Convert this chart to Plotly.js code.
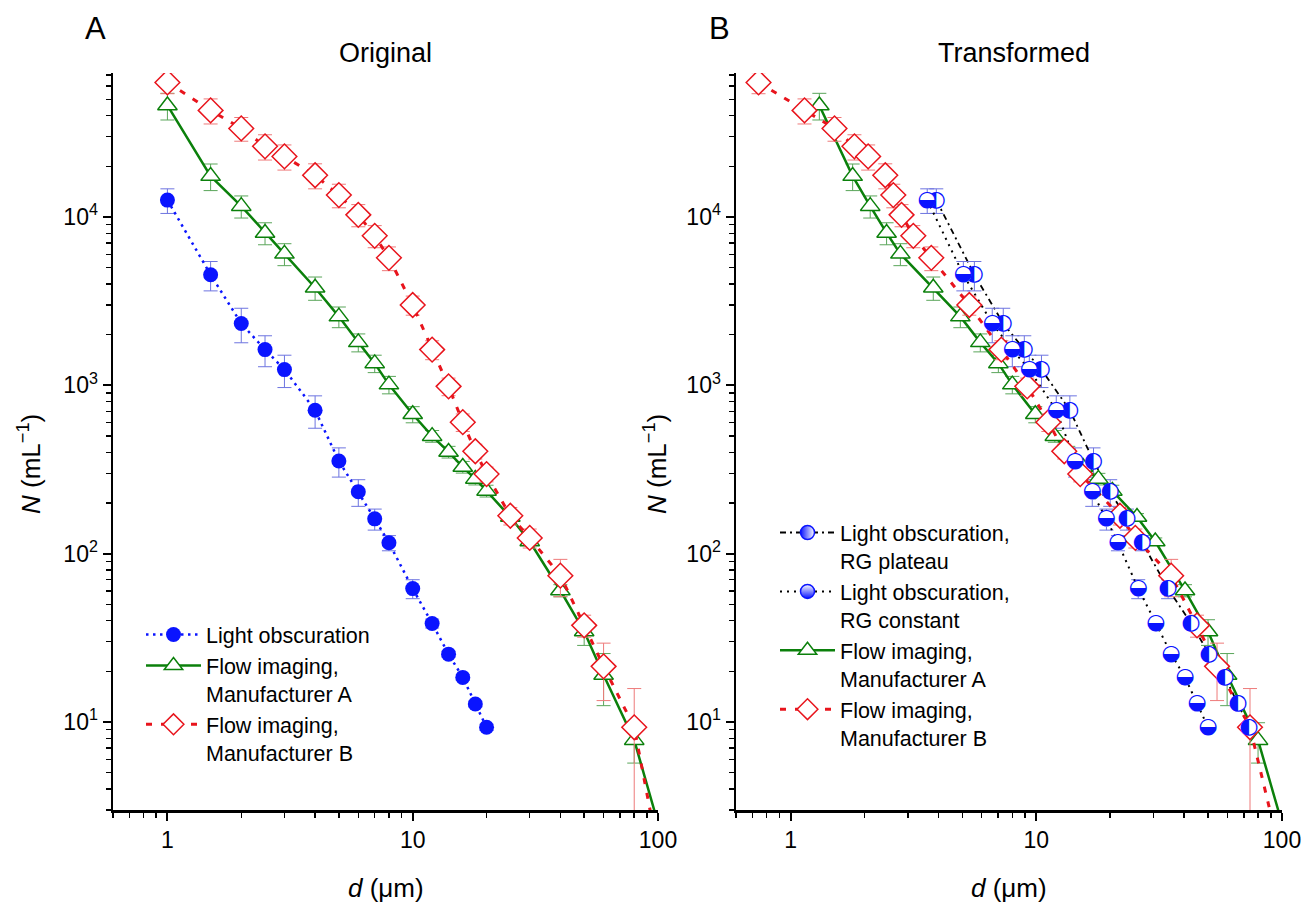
<!DOCTYPE html>
<html>
<head>
<meta charset="utf-8">
<script src="https://cdn.plot.ly/plotly-3.0.1.min.js"></script>
<style>html,body{margin:0;padding:0;background:#fff}#chart{width:1302px;height:903px}</style>
</head>
<body>
<div id="chart"></div>
<script>
// ---------- Panel A: Original ----------
var dLO   = [1, 1.5, 2, 2.5, 3, 4, 5, 6, 7, 8, 10, 12, 14, 16, 18, 20];
var nLO   = [12600, 4540, 2330, 1630, 1240, 711, 355, 233, 161, 116, 62, 38.5, 25.3, 18.4, 12.8, 9.3];
var eLO   = [2100, 900, 540, 340, 270, 155, 70, 42, 23, 12, 8, 2.3, 1, 0.7, 0.5, 0.4];

var dFA   = [1, 1.5, 2, 2.5, 3, 4, 5, 6, 7, 8, 10, 12, 14, 16, 18, 20, 25, 30, 40, 50, 60, 80, 100];
var nFA   = [46000, 17500, 11600, 8040, 6040, 3800, 2560, 1800, 1350, 1010, 673, 499, 402, 327, 278, 236, 165, 118, 60.4, 34.5, 19, 7.8, 2.5];
var eFA   = [8300, 3150, 1740, 1200, 900, 600, 360, 220, 160, 120, 74, 40, 32, 26, 22, 19, 8, 6, 5, 6, 6.5, 2.1, 0];

var dFB   = [1, 1.5, 2, 2.5, 3, 4, 5, 6, 7, 8, 10, 12, 14, 16, 18, 20, 25, 30, 40, 50, 60, 80, 100];
var nFB   = [63000, 43000, 33600, 26300, 22900, 17700, 13500, 10300, 7730, 5720, 3000, 1630, 986, 604, 406, 297, 168, 124, 74, 37.5, 21.4, 9.3, 1.7];
var eFB   = [9000, 7300, 5400, 4500, 3900, 3000, 2160, 1550, 1160, 920, 390, 210, 118, 72, 41, 30, 20, 16, 18.5, 5.6, 8, 6.5, 0];

// ---------- Panel B: Transformed sizes ----------
var dPlateau  = [3.92, 5.60, 7.34, 8.94, 10.5, 13.7, 17.1, 20.0, 23.4, 27.0, 34.4, 42.7, 50.5, 58.7, 66.2, 73.4];
var dConstant = [3.60, 5.05, 6.62, 7.99, 9.37, 12.06, 14.4, 16.9, 19.3, 21.5, 26.0, 30.7, 35.4, 40.3, 45.1, 50.0];
var dFA_T     = [1.31, 1.79, 2.11, 2.46, 2.80, 3.81, 4.91, 5.92, 7.01, 7.99, 9.91, 11.9, 13.5, 15.5, 17.9, 20.4, 25.7, 30.5, 40.3, 50.0, 59.8, 79.9, 100];
var dFB_T     = [0.741, 1.14, 1.51, 1.82, 2.07, 2.43, 2.62, 2.83, 3.16, 3.74, 5.34, 7.21, 9.19, 11.2, 13.0, 15.1, 21.9, 25.3, 35.4, 45.1, 54.4, 74.1, 98];

// ---------- Labels ----------
var xTickVals = [1, 10, 100];
var xTickText = ['1', '10', '100'];
var yTickVals = [10, 100, 1000, 10000];
var yTickText = ['10<sup>1</sup>', '10<sup>2</sup>', '10<sup>3</sup>', '10<sup>4</sup>'];
var legLO  = 'Light obscuration';
var legFA  = 'Flow imaging,<br>Manufacturer A';
var legFB  = 'Flow imaging,<br>Manufacturer B';
var legPl  = 'Light obscuration,<br>RG plateau';
var legCo  = 'Light obscuration,<br>RG constant';

var FONT = 'Liberation Sans, Arial, sans-serif';
var BLUE = '#0a14ff', GREEN = '#0b800b', RED = '#e8141c';
var BLUE_E = '#6d74e0', GREEN_E = '#5aa55a', RED_E = '#ee7a7a';

function minorTicks(lo, hi) {
  var v = [];
  for (var p = lo; p <= hi; p++) {
    for (var k = 2; k <= 9; k++) v.push(k * Math.pow(10, p));
  }
  return v;
}

function errs(arr, col) {
  return {type: 'data', array: arr, visible: true, color: col, thickness: 1, width: 7};
}

var triMarker = {symbol: 'triangle-up', size: 17, color: 'white', line: {width: 1.5, color: GREEN}};
var diaMarker = {symbol: 'diamond', size: 19, color: 'white', line: {width: 1.5, color: RED}};

var traces = [
  {x: dLO, y: nLO, xaxis: 'x', yaxis: 'y', name: legLO, legend: 'legend', mode: 'lines+markers',
   line: {color: BLUE, width: 2.5, dash: '2.5px,4.5px'},
   marker: {symbol: 'circle', size: 15, color: BLUE}, error_y: errs(eLO, BLUE_E)},
  {x: dFA, y: nFA, xaxis: 'x', yaxis: 'y', name: legFA, legend: 'legend', mode: 'lines+markers',
   line: {color: GREEN, width: 2.5}, marker: triMarker, error_y: errs(eFA, GREEN_E)},
  {x: dFB, y: nFB, xaxis: 'x', yaxis: 'y', name: legFB, legend: 'legend', mode: 'lines+markers',
   line: {color: RED, width: 3, dash: '6px,9px'}, marker: diaMarker, error_y: errs(eFB, RED_E)},

  {x: dPlateau, y: nLO, xaxis: 'x2', yaxis: 'y2', name: legPl, legend: 'legend2', mode: 'lines+markers',
   line: {color: 'black', width: 1.8, dash: '6px,4px,2px,4px'},
   marker: {symbol: 'circle', size: 14, color: BLUE, gradient: {type: 'horizontal', color: 'white'}, line: {color: BLUE, width: 1.5}},
   error_y: errs(eLO, BLUE_E)},
  {x: dConstant, y: nLO, xaxis: 'x2', yaxis: 'y2', name: legCo, legend: 'legend2', mode: 'lines+markers',
   line: {color: 'black', width: 2, dash: '2px,5px'},
   marker: {symbol: 'circle', size: 14, color: 'white', gradient: {type: 'vertical', color: BLUE}, line: {color: BLUE, width: 1.5}},
   error_y: errs(eLO, BLUE_E)},
  {x: dFA_T, y: nFA, xaxis: 'x2', yaxis: 'y2', name: legFA, legend: 'legend2', mode: 'lines+markers',
   line: {color: GREEN, width: 2.5}, marker: triMarker, error_y: errs(eFA, GREEN_E)},
  {x: dFB_T, y: nFB, xaxis: 'x2', yaxis: 'y2', name: legFB, legend: 'legend2', mode: 'lines+markers',
   line: {color: RED, width: 3, dash: '6px,9px'}, marker: diaMarker, error_y: errs(eFB, RED_E)},

  // half-filled glyph markers drawn on top
  {x: dPlateau, y: nLO, xaxis: 'x2', yaxis: 'y2', showlegend: false, hoverinfo: 'skip', mode: 'markers+text',
   marker: {symbol: 'circle', size: 16, color: 'white'},
   text: nLO.map(function(){return '\u25D0';}), textposition: 'middle center',
   textfont: {family: 'DejaVu Sans', size: 22, color: BLUE}},
  {x: dConstant, y: nLO, xaxis: 'x2', yaxis: 'y2', showlegend: false, hoverinfo: 'skip', mode: 'markers+text',
   marker: {symbol: 'circle', size: 16, color: 'white'},
   text: nLO.map(function(){return '\u25D2';}), textposition: 'middle center',
   textfont: {family: 'DejaVu Sans', size: 22, color: BLUE}}
];

var W = 1302, H = 903;
function px(x) { return x / W; }
function py(y) { return 1 - y / H; }

function xAxis(dom, anchor) {
  return {type: 'log', domain: dom, anchor: anchor, range: [Math.log10(0.6), 2],
    showline: true, linecolor: 'black', linewidth: 2.5, showgrid: false, zeroline: false,
    ticks: 'outside', ticklen: 8, tickwidth: 2, tickcolor: 'black',
    tickmode: 'array', tickvals: xTickVals, ticktext: xTickText,
    tickfont: {family: FONT, size: 23, color: 'black'},
    minor: {tickmode: 'array', tickvals: minorTicks(-1, 1).filter(function(v){return v >= 0.6 && v < 100;}),
            ticks: 'outside', ticklen: 5, tickwidth: 1.5, tickcolor: 'black', showgrid: false}};
}
function yAxis(anchor) {
  return {type: 'log', domain: [py(810), py(73)], anchor: anchor, range: [Math.log10(3), Math.log10(71700)],
    showline: true, linecolor: 'black', linewidth: 2.5, showgrid: false, zeroline: false,
    ticks: 'outside', ticklen: 8, tickwidth: 2, tickcolor: 'black',
    tickmode: 'array', tickvals: yTickVals, ticktext: yTickText,
    tickfont: {family: FONT, size: 23, color: 'black'},
    minor: {tickmode: 'array', tickvals: minorTicks(0, 4).filter(function(v){return v >= 3 && v <= 71700;}),
            ticks: 'outside', ticklen: 5, tickwidth: 1.5, tickcolor: 'black', showgrid: false}};
}

function ann(text, x, y, size, extra) {
  var a = {text: text, x: px(x), y: py(y), xref: 'paper', yref: 'paper', showarrow: false,
           xanchor: 'center', yanchor: 'middle', font: {family: FONT, size: size, color: 'black'}};
  for (var k in extra) a[k] = extra[k];
  return a;
}

var layout = {
  width: W, height: H, margin: {l: 0, r: 0, t: 0, b: 0},
  paper_bgcolor: 'white', plot_bgcolor: 'white',
  xaxis: xAxis([px(113), px(658)], 'y'),
  yaxis: yAxis('x'),
  xaxis2: xAxis([px(736), px(1282)], 'y2'),
  yaxis2: yAxis('x2'),
  legend: {x: px(141), y: py(614), xanchor: 'left', yanchor: 'top', bgcolor: 'rgba(0,0,0,0)',
           font: {family: FONT, size: 21.5, color: 'black'}, itemwidth: 55, valign: 'top', tracegroupgap: 0},
  legend2: {x: px(775), y: py(512), xanchor: 'left', yanchor: 'top', bgcolor: 'rgba(0,0,0,0)',
           font: {family: FONT, size: 21.5, color: 'black'}, itemwidth: 55, valign: 'top', tracegroupgap: 0},
  annotations: [
    ann('A', 95, 28, 31),
    ann('B', 719, 28, 31),
    ann('Original', 385, 53, 27),
    ann('Transformed', 1014, 53, 27),
    ann('<i>N</i> (mL<sup>\u22121</sup>)', 30, 464, 26, {textangle: -90}),
    ann('<i>N</i> (mL<sup>\u22121</sup>)', 656, 464, 26, {textangle: -90}),
    ann('<i>d</i> (\u03BCm)', 386, 888, 26),
    ann('<i>d</i> (\u03BCm)', 1009, 888, 26)
  ]
};

Plotly.newPlot('chart', traces, layout, {displayModeBar: false, staticPlot: true});
</script>
</body>
</html>
